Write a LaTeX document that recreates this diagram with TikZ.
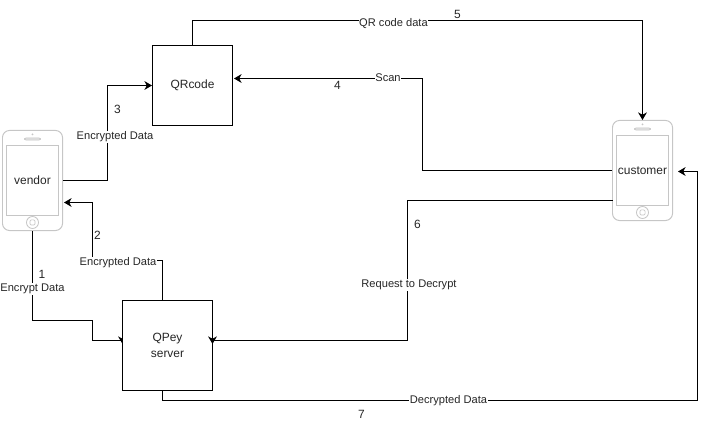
\documentclass[tikz,border=0pt]{standalone}
\usepackage{fontspec}
\setmainfont{Liberation Sans}
\usetikzlibrary{arrows.meta, positioning}

\begin{document}
\begin{tikzpicture}[
    x=0.025cm, y=-0.025cm,
    flow/.style={draw=black, line width=0.7pt, -{Stealth[length=1.9mm, width=2.2mm, inset=0.6mm]}},
    box/.style={rectangle, draw=black, fill=white, text=black!85, line width=0.7pt, align=center, font=\fontsize{8.5pt}{11pt}\selectfont},
    phone/.style={rectangle, rounded corners=5pt, draw=gray!45, line width=0.7pt, minimum width=1.5cm, minimum height=2.5cm},
    screen/.style={rectangle, draw=gray!45, text=black!85, line width=0.7pt, minimum width=1.3cm, minimum height=1.75cm, inner sep=0pt, font=\fontsize{8.5pt}{11pt}\selectfont},
    speaker/.style={rectangle, rounded corners=1pt, draw=gray!45, fill=gray!25, minimum width=0.4cm, minimum height=0.06cm, inner sep=0pt},
    camera/.style={circle, fill=gray!45, minimum size=0.05cm, inner sep=0pt},
    homebtn/.style={circle, draw=gray!45, line width=0.6pt, minimum size=0.3cm, inner sep=0pt},
    homekey/.style={rectangle, rounded corners=1pt, draw=gray!45, line width=0.5pt, minimum size=0.13cm, inner sep=0pt},
    edgelabel/.style={fill=white, text=black!85, inner sep=0.5pt, align=center, font=\fontsize{7.9pt}{9pt}\selectfont},
    number/.style={inner sep=0pt, text=black!85, font=\fontsize{8.5pt}{10pt}\selectfont}
]
\useasboundingbox (0,0) rectangle (706,431);
% vendor phone
\node[phone] (vendor) at (32.5,180.5) {};
\node[screen] (vendorscreen) at (32.5,180.5) {vendor};
\node[speaker] (vendorbar) at (32.5,139) {};
\node[camera] (vendorcam) at (32.5,134.5) {};
\node[homebtn] (vendorbtn) at (32.5,222.5) {};
\node[homekey] (vendorkey) at (32.5,222.5) {};
% customer phone
\node[phone] (customer) at (642.5,170.5) {};
\node[screen] (customerscreen) at (642.5,170.5) {customer};
\node[speaker] (customerbar) at (642.5,129) {};
\node[camera] (customercam) at (642.5,124.5) {};
\node[homebtn] (customerbtn) at (642.5,212.5) {};
\node[homekey] (customerkey) at (642.5,212.5) {};
% free ends
\coordinate (vendorin) at (64,202.5);
\coordinate (customerin) at (678,171.5);
\coordinate (customerout) at (612.5,200.5);
\coordinate (scanin) at (234,78.5);
\coordinate (serverin) at (122.5,344);
\coordinate (serverback) at (212.5,344);
% left arrow of the server goes under its box
\draw[flow] (vendor.south) -- (32.5,320.5) -- (92.5,320.5) -- (92.5,340.5) -- (122.5,340.5) -- (serverin);
\node[box, minimum size=2.25cm] (server) at (167.5,345.5) {QPey\\server};
\node[box, minimum size=2cm] (qrcode) at (192.5,85.5) {QRcode};
% connectors
\draw[flow] (162.5,300.5) -- (162.5,260.5) -- (92.5,260.5) -- (92.5,202.5) -- (vendorin);
\draw[flow] (vendor.east) -- (107.5,180.5) -- (107.5,85.5) -- (qrcode.west);
\draw[flow] (customer.west) -- (422.5,170.5) -- (422.5,78.5) -- (scanin);
\draw[flow] (192.5,45.5) -- (192.5,20.5) -- (642.5,20.5) -- (customer.north);
\draw[flow] (customerout) -- (407.5,200.5) -- (407.5,340.5) -- (212.5,340.5) -- (serverback);
\draw[flow] (162.5,390.5) -- (162.5,400.5) -- (697.5,400.5) -- (697.5,171.5) -- (customerin);
% labels
\node[edgelabel] (lbl1) at (32.5,289) {Encrypt Data};
\node[edgelabel] (lbl2) at (118,263) {Encrypted Data};
\node[edgelabel] (lbl3) at (115,137) {Encrypted Data};
\node[edgelabel] (lbl4) at (388,78) {Scan};
\node[edgelabel] (lbl5) at (393.5,23.5) {QR code data};
\node[edgelabel] (lbl6) at (409,285) {Request to Decrypt};
\node[edgelabel] (lbl7) at (448.5,401) {Decrypted Data};
\node[number] (num1) at (42,274.5) {1};
\node[number] (num2) at (97.5,235) {2};
\node[number] (num3) at (117.5,109.5) {3};
\node[number] (num4) at (337.5,85.5) {4};
\node[number] (num5) at (457.5,14.5) {5};
\node[number] (num6) at (417.5,224.5) {6};
\node[number] (num7) at (361.5,414.5) {7};
\end{tikzpicture}
\end{document}
